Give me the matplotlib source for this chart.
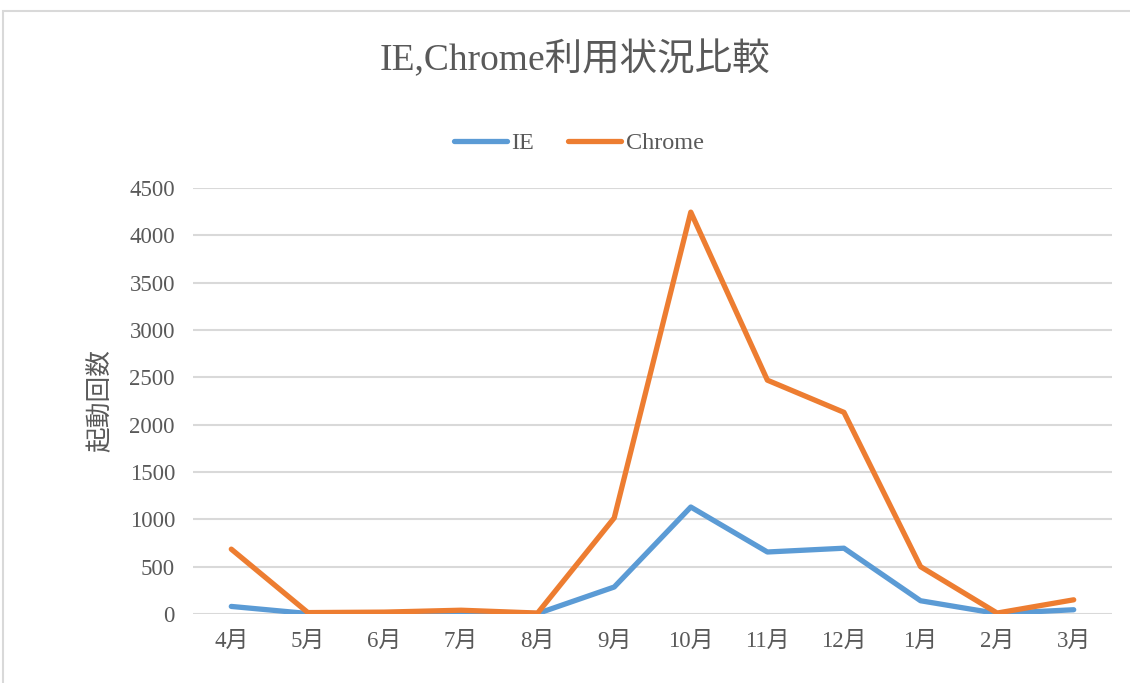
import matplotlib
matplotlib.use("Agg")
import matplotlib.pyplot as plt
from matplotlib.patches import Rectangle

months = ["4月", "5月", "6月", "7月", "8月", "9月", "10月", "11月", "12月", "1月", "2月", "3月"]
ie_values = [80, 5, 5, 12, 5, 285, 1130, 655, 695, 140, 5, 45]
chrome_values = [685, 15, 20, 40, 10, 1015, 4245, 2470, 2130, 500, 10, 150]
y_ticks = [0, 500, 1000, 1500, 2000, 2500, 3000, 3500, 4000, 4500]

FAM = ["Liberation Serif", "Noto Sans CJK JP", "DejaVu Sans"]
TXT = "#595959"
plt.rcParams["font.family"] = FAM

fig = plt.figure(figsize=(11.3, 6.83), dpi=100)
fig.patch.set_facecolor("white")
# outer chart border
fig.patches.append(Rectangle((3 / 1130, -0.1), 1.2, 1 - 11 / 683 + 0.1,
                             transform=fig.transFigure, fill=False,
                             edgecolor="#D9D9D9", linewidth=1.5))

ax = fig.add_axes([193 / 1130, 1 - 614 / 683, (1112 - 193) / 1130, (614 - 188) / 683])
x = list(range(len(months)))
ax.plot(x, ie_values, color="#5B9BD5", linewidth=3.8, solid_capstyle="round",
        solid_joinstyle="round", label="IE", zorder=3)
ax.plot(x, chrome_values, color="#ED7D31", linewidth=3.8, solid_capstyle="round",
        solid_joinstyle="round", label="Chrome", zorder=4)

ax.set_xlim(-0.5, len(months) - 0.5)
ax.set_ylim(0, 4500)
ax.set_yticks(y_ticks)
ax.set_yticklabels([str(v) for v in y_ticks])
ax.set_xticks(x)
ax.set_xticklabels(months)
ax.yaxis.grid(True, color="#D9D9D9", linewidth=1.5)
ax.set_axisbelow(True)
for s in ax.spines.values():
    s.set_visible(False)
ax.tick_params(axis="both", length=0, labelsize=16.5, colors=TXT)
ax.tick_params(axis="y", pad=13)
ax.tick_params(axis="x", pad=12)
ax.set_ylabel("起動回数", fontsize=18.5, color=TXT, labelpad=12)

fig.text(575 / 1130, 1 - 59 / 683, "IE,Chrome利用状況比較", ha="center", va="center",
         fontsize=27, color=TXT)

leg = fig.legend(loc="center", bbox_to_anchor=(579 / 1130, 1 - 143 / 683), ncol=2,
                 frameon=False, fontsize=17.5, handlelength=2.15, columnspacing=1.4,
                 handletextpad=0.2)
for t in leg.get_texts():
    t.set_color(TXT)

fig.savefig("out.png", dpi=100, facecolor="white")
